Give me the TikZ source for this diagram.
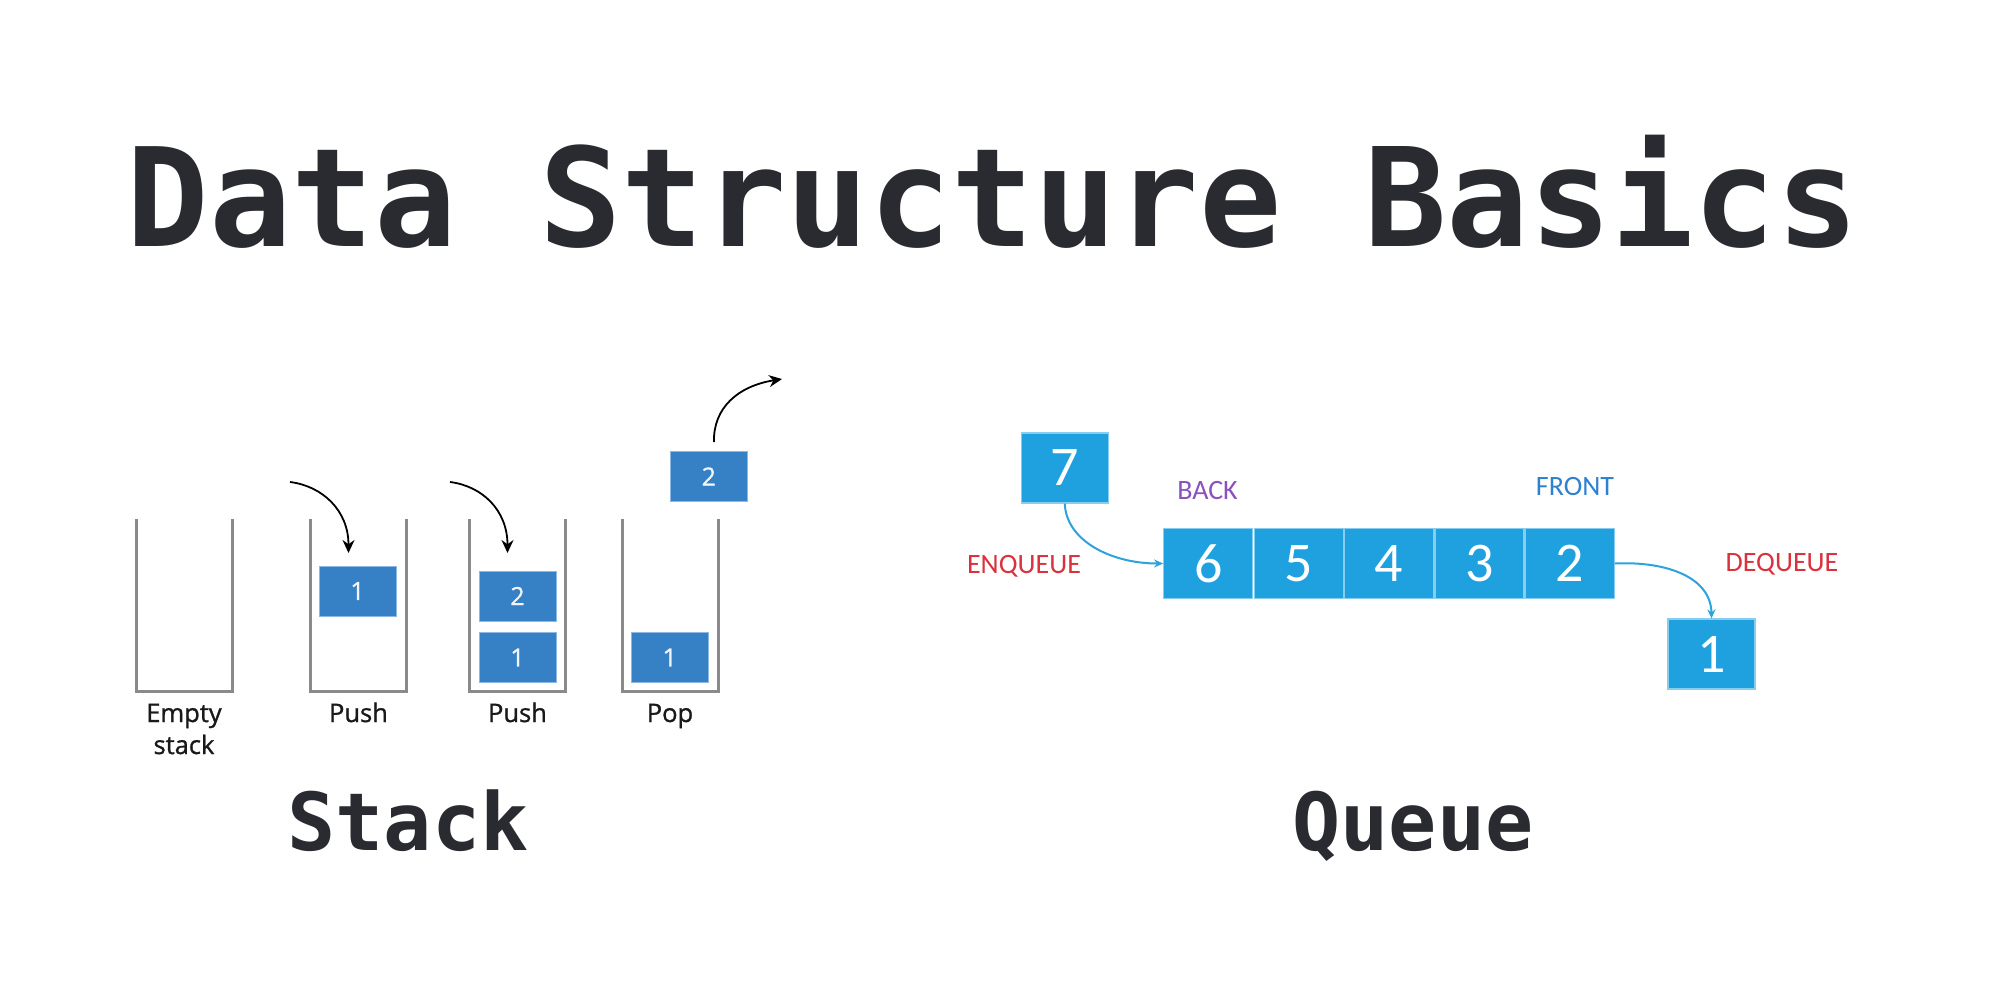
\documentclass[tikz,border=0pt]{standalone}
\usepackage{fontspec}
\usetikzlibrary{arrows.meta}
\newfontfamily\titlefont{DejaVu Sans Mono}
\newfontfamily\labfont{Open Sans}[FakeBold=1]
\newfontfamily\qfont{Carlito}
\definecolor{titlecol}{HTML}{2A2B30}
\definecolor{sblue}{HTML}{3680C6}
\definecolor{sedge}{HTML}{8DB8E3}
\definecolor{qblue}{HTML}{1FA1E0}
\definecolor{qedge}{HTML}{86CDF0}
\definecolor{wallcol}{HTML}{8A8A8A}
\definecolor{qarrow}{HTML}{2EA2DD}
\definecolor{enqred}{HTML}{D9323E}
\definecolor{backpur}{HTML}{8A52BE}
\definecolor{frontblue}{HTML}{2E80D0}
\begin{document}
\begin{tikzpicture}[x=1pt,y=-1pt,
  wall/.style={draw=wallcol,line width=3pt},
  sbox/.style={fill=sblue,draw=sedge,line width=1pt,minimum width=77pt,minimum height=50pt,inner sep=0pt,
    text=white!92!sblue,font=\labfont\fontsize{25}{26}\selectfont},
  qcell/.style={fill=qblue,draw=qedge,line width=1.2pt,minimum width=89pt,minimum height=70pt,inner sep=0pt,
    text=white,font=\qfont\fontsize{56}{58}\selectfont},
  slabel/.style={anchor=base,text=black!90,font=\labfont\fontsize{25.5}{27}\selectfont},
  qlabel/.style={anchor=base,font=\qfont\fontsize{28}{30}\selectfont},
  heading/.style={anchor=base,text=titlecol,font=\titlefont\bfseries\fontsize{80}{82}\selectfont},
  sarrow/.style={draw=black,line width=1.8pt,-{Stealth[length=13pt,width=12pt]}},
  qarr/.style={draw=qarrow,line width=2pt,-{Stealth[length=9pt,width=8pt]}}
]
\fill[white] (0,0) rectangle (1992,990);
\useasboundingbox (0,0) rectangle (1992,990);

% title
\node[anchor=base,text=titlecol,font=\titlefont\bfseries\fontsize{137}{140}\selectfont] (title) at (993,246) {Data Structure Basics};

% ---------- stack ----------
\draw[wall] (136.5,519) -- (136.5,691) -- (232.5,691) -- (232.5,519);
\draw[wall] (310.5,519) -- (310.5,691) -- (406.5,691) -- (406.5,519);
\draw[wall] (469.5,519) -- (469.5,691) -- (565.5,691) -- (565.5,519);
\draw[wall] (622,519) -- (622,691) -- (718,691) -- (718,519);

\node[sbox] (s1a) at (357.5,591) {1};
\node[sbox] (s2b) at (517.5,596) {2};
\node[sbox] (s2a) at (517.5,657.5) {1};
\node[sbox] (s3a) at (669.7,657.5) {1};
\node[sbox] (s3p) at (708.8,476.5) {2};

\node[slabel] (lempty) at (184,722) {Empty};
\node[slabel] (lstack) at (184,754) {stack};
\node[slabel] (lpush1) at (358.5,722) {Push};
\node[slabel] (lpush2) at (517.5,722) {Push};
\node[slabel] (lpop) at (670,722) {Pop};

\coordinate (a1s) at (290,482);
\coordinate (a1e) at (348.5,553);
\coordinate (a2s) at (450,482);
\coordinate (a2e) at (507.5,553);
\coordinate (a3s) at (714,442);
\coordinate (a3e) at (782,379);
\draw[sarrow] (a1s) .. controls (322,486) and (348.5,510) .. (a1e);
\draw[sarrow] (a2s) .. controls (482,486) and (507.5,510) .. (a2e);
\draw[sarrow] (a3s) .. controls (713,408) and (738,386) .. (a3e);

\node[heading] (hstack) at (408,850) {Stack};

% ---------- queue ----------
\node[qcell] (q6) at (1208.2,563.5) {6};
\node[qcell] (q5) at (1298.6,563.5) {5};
\node[qcell] (q4) at (1389,563.5) {4};
\node[qcell] (q3) at (1479.4,563.5) {3};
\node[qcell] (q2) at (1569.8,563.5) {2};
\node[qcell,minimum width=87pt] (q7) at (1064.8,468) {7};
\node[qcell,minimum width=87pt] (q1) at (1711.5,654) {1};

\node[qlabel,text=backpur] (lback) at (1207.5,499) {BACK};
\node[qlabel,text=frontblue] (lfront) at (1575,495) {FRONT};
\node[qlabel,text=enqred] (lenq) at (1024,573) {ENQUEUE};
\node[qlabel,text=enqred] (ldeq) at (1782,571) {DEQUEUE};

\draw[qarr] (q7.south) .. controls (1066,540) and (1110,563.5) .. (q6.west);
\draw[qarr] (q2.east) .. controls (1668,561) and (1711,578) .. (q1.north);

\node[heading] (hqueue) at (1413,850) {Queue};
\end{tikzpicture}
\end{document}
